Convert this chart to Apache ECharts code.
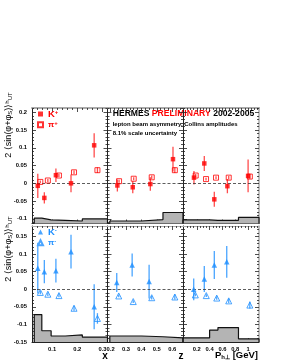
<!DOCTYPE html>
<html><head><meta charset="utf-8">
<script src="https://cdn.jsdelivr.net/npm/echarts@6/dist/echarts.min.js"></script>
<style>html,body{margin:0;padding:0;background:#fff}#c{width:281px;height:363px}</style>
</head><body><div id="c"></div>
<script>
// ---------------- data ----------------
const xRange = [0.02, 0.32], zRange = [0.18, 0.67], pRange = [-0.015, 1.17];
const yTopRange = [-0.113, 0.212], yBotRange = [-0.15, 0.18];
const xTicks = [0.1, 0.2, 0.3];
const zTicks = [0.2, 0.3, 0.4, 0.5, 0.6];
const pTicks = [0.2, 0.4, 0.6, 0.8, 1];
const yTopTicks = [-0.1, -0.05, 0, 0.05, 0.1, 0.15, 0.2];
const yBotTicks = [-0.15, -0.1, -0.05, 0, 0.05, 0.1, 0.15];

// K+ / pi+ vs x
const kpX    = [0.043, 0.069, 0.115, 0.175, 0.267];
const kpXVal = [-0.007, -0.041, 0.023, 0.000, 0.107];
const kpXErr = [0.034, 0.016, 0.019, 0.025, 0.034];
const pipX    = [0.053, 0.083, 0.127, 0.187, 0.280];
const pipXVal = [0.004, 0.008, 0.022, 0.031, 0.037];
const pipXErr = [0.004, 0.004, 0.004, 0.005, 0.008];
// K+ / pi+ vs z
const kpZ    = [0.244, 0.344, 0.458, 0.605];
const kpZVal = [-0.006, -0.011, -0.002, 0.068];
const kpZErr = [0.017, 0.017, 0.019, 0.035];
const pipZ    = [0.255, 0.350, 0.467, 0.617];
const pipZVal = [0.006, 0.013, 0.017, 0.037];
const pipZErr = [0.004, 0.004, 0.005, 0.008];
// K+ / pi+ vs Ph_perp
const kpP    = [0.156, 0.317, 0.473, 0.677, 1.00];
const kpPVal = [0.016, 0.056, -0.045, -0.008, 0.021];
const kpPErr = [0.019, 0.021, 0.021, 0.020, 0.046];
const pipP    = [0.183, 0.344, 0.50, 0.698, 1.027];
const pipPVal = [0.022, 0.012, 0.016, 0.016, 0.019];
const pipPErr = [0.004, 0.004, 0.004, 0.005, 0.007];
// K- / pi- vs x
const kmX    = [0.043, 0.069, 0.115, 0.175, 0.267];
const kmXVal = [0.060, 0.050, 0.053, 0.107, -0.050];
const kmXErr = [0.072, 0.033, 0.034, 0.048, 0.064];
const pimX    = [0.053, 0.083, 0.127, 0.187, 0.280];
const pimXVal = [-0.009, -0.014, -0.018, -0.054, -0.083];
const pimXErr = [0.005, 0.005, 0.005, 0.007, 0.015];
// K- / pi- vs z
const kmZ    = [0.24, 0.34, 0.45];
const kmZVal = [0.019, 0.069, 0.022];
const kmZErr = [0.027, 0.033, 0.048];
const pimZ    = [0.253, 0.347, 0.467, 0.617];
const pimZVal = [-0.019, -0.035, -0.024, -0.022];
const pimZErr = [0.004, 0.004, 0.005, 0.007];
// K- / pi- vs Ph_perp
const kmP    = [0.152, 0.317, 0.473, 0.667];
const kmPVal = [0.000, 0.029, 0.069, 0.078];
const kmPErr = [0.031, 0.037, 0.040, 0.045];
const pimP    = [0.177, 0.348, 0.511, 0.698, 1.027];
const pimPVal = [-0.016, -0.018, -0.025, -0.033, -0.045];
const pimPErr = [0.004, 0.004, 0.005, 0.006, 0.010];

// systematic-uncertainty bands: bin edges and band tops
const sysXEdges = [0.029, 0.059, 0.096, 0.152, 0.22, 0.32];
const sysZEdges = [0.195, 0.40, 0.54, 0.67];
const sysPEdges = [-0.015, 0.40, 0.53, 0.85, 1.17];
const sysKpX = [-0.098, -0.103, -0.104, -0.106, -0.100];
const sysKpZ = [-0.106, -0.102, -0.082];
const sysKpP = [-0.103, -0.104, -0.104, -0.096];
const sysKmX = [-0.072, -0.118, -0.133, -0.130, -0.136];
const sysKmZ = [-0.133, -0.135, -0.138];
const sysKmP = [-0.138, -0.116, -0.109, -0.141];

// ---------------- chart ----------------
const F = "'Liberation Sans', Arial, sans-serif";
const COL = {
  red: '#ff0000', redBar: '#ff4d4d',
  blue: '#1e8fff', blueBar: '#4aa5ff'
};
const grids = [
  {left: 32, top: 108, width: 75.5, height: 115.5},
  {left: 107.5, top: 108, width: 75.5, height: 115.5},
  {left: 183, top: 108, width: 76, height: 115.5},
  {left: 32, top: 226, width: 75.5, height: 116},
  {left: 107.5, top: 226, width: 75.5, height: 116},
  {left: 183, top: 226, width: 76, height: 116}
];
const xr = [xRange, zRange, pRange, xRange, zRange, pRange];
const xt = [xTicks, zTicks, pTicks, xTicks, zTicks, pTicks];
const xSplit = [3, 5, 6, 3, 5, 6];
const xMinor = [5, 4, 4, 5, 4, 4];
const fmt = v => String(+v.toFixed(3));

const xAxis = [], yAxis = [];
grids.forEach((g, i) => {
  const bottomRow = i >= 3, leftCol = i % 3 === 0, rightCol = i % 3 === 2;
  const yr = bottomRow ? yBotRange : yTopRange;
  const yt = bottomRow ? yBotTicks : yTopTicks;
  const tickStyle = {color: '#222', width: 0.8};
  xAxis.push({type: 'value', gridIndex: i, position: 'bottom', min: xr[i][0], max: xr[i][1],
    splitNumber: xSplit[i],
    axisLine: {show: true, onZero: false, lineStyle: {color: '#222', width: 1}},
    axisTick: {show: true, inside: true, length: 4, customValues: xt[i], lineStyle: tickStyle},
    minorTick: {show: true, splitNumber: xMinor[i], length: 2, lineStyle: tickStyle},
    axisLabel: {show: bottomRow, customValues: xt[i], margin: 4, fontSize: 5.8, fontWeight: 'bold',
      color: '#000', fontFamily: F, formatter: fmt},
    splitLine: {show: false}});
  xAxis.push({type: 'value', gridIndex: i, position: 'top', min: xr[i][0], max: xr[i][1],
    splitNumber: xSplit[i],
    axisLine: {show: true, onZero: false, lineStyle: {color: '#aaa', width: bottomRow ? 1.2 : 2}},
    axisTick: {show: true, inside: true, length: 4, customValues: xt[i], lineStyle: tickStyle},
    minorTick: {show: true, splitNumber: xMinor[i], length: 2, lineStyle: tickStyle},
    axisLabel: {show: false}, splitLine: {show: false}});
  yAxis.push({type: 'value', gridIndex: i, position: 'left', min: yr[0], max: yr[1],
    axisLine: {show: true, onZero: false, lineStyle: {color: '#222', width: 1}},
    axisTick: {show: true, inside: true, length: 4, customValues: yt, lineStyle: tickStyle},
    minorTick: {show: true, splitNumber: 5, length: 2, lineStyle: tickStyle},
    axisLabel: {show: leftCol, customValues: yt, margin: 5, fontSize: 5.8, fontWeight: 'bold',
      color: '#000', fontFamily: F, formatter: fmt},
    splitLine: {show: false}});
  yAxis.push({type: 'value', gridIndex: i, position: 'right', min: yr[0], max: yr[1],
    axisLine: {show: rightCol, onZero: false, lineStyle: {color: '#aaa', width: 1.5}},
    axisTick: {show: true, inside: true, length: 4, customValues: yt, lineStyle: tickStyle},
    minorTick: {show: true, splitNumber: 5, length: 2, lineStyle: tickStyle},
    axisLabel: {show: false}, splitLine: {show: false}});
});

function markerSeries(name, gi, xs, ys, symbol, size, color, open) {
  return {type: 'scatter', name, xAxisIndex: gi * 2, yAxisIndex: gi * 2,
    data: xs.map((x, k) => [x, ys[k]]), symbol, symbolSize: size, z: 5, silent: true,
    itemStyle: open ? {color: 'rgba(0,0,0,0)', borderColor: color, borderWidth: 1}
                    : {color: color, borderWidth: 0},
    clip: true};
}
function errSeries(name, gi, xs, ys, es, color) {
  return {type: 'custom', name, xAxisIndex: gi * 2, yAxisIndex: gi * 2, silent: true, z: 4, clip: true,
    data: xs.map((x, k) => [x, ys[k], es[k]]),
    renderItem: (params, api) => {
      const x = api.value(0), y = api.value(1), e = api.value(2);
      const a = api.coord([x, y - e]), b = api.coord([x, y + e]);
      return {type: 'line', shape: {x1: a[0], y1: a[1], x2: b[0], y2: b[1]},
        style: {stroke: color, lineWidth: 1.3}};
    }};
}
function sysSeries(gi, edges, tops, base) {
  const d = [[edges[0], base]];
  tops.forEach((t, k) => d.push([edges[k], t]));
  d.push([edges[edges.length - 1], tops[tops.length - 1]]);
  d.push([edges[edges.length - 1], base]);
  return {type: 'line', xAxisIndex: gi * 2, yAxisIndex: gi * 2, data: d, step: 'end',
    symbol: 'none', silent: true, z: 2,
    lineStyle: {color: '#111', width: 1.2}, areaStyle: {color: '#b4b4b4', origin: 'start', opacity: 1},
    markLine: {silent: true, symbol: 'none', label: {show: false}, animation: false,
      lineStyle: {type: [3, 2], color: '#333', width: 0.8}, data: [{yAxis: 0}]}};
}

const panels = [
  {g: 0, k: [kpX, kpXVal, kpXErr], p: [pipX, pipXVal, pipXErr], e: sysXEdges, s: sysKpX},
  {g: 1, k: [kpZ, kpZVal, kpZErr], p: [pipZ, pipZVal, pipZErr], e: sysZEdges, s: sysKpZ},
  {g: 2, k: [kpP, kpPVal, kpPErr], p: [pipP, pipPVal, pipPErr], e: sysPEdges, s: sysKpP},
  {g: 3, k: [kmX, kmXVal, kmXErr], p: [pimX, pimXVal, pimXErr], e: sysXEdges, s: sysKmX},
  {g: 4, k: [kmZ, kmZVal, kmZErr], p: [pimZ, pimZVal, pimZErr], e: sysZEdges, s: sysKmZ},
  {g: 5, k: [kmP, kmPVal, kmPErr], p: [pimP, pimPVal, pimPErr], e: sysPEdges, s: sysKmP}
];
const markers = [], rest = [];
panels.forEach(P => {
  const neg = P.g >= 3;
  const kn = neg ? 'K-' : 'K+', pn = neg ? 'π-' : 'π+';
  const c = neg ? COL.blue : COL.red, cb = neg ? COL.blueBar : COL.redBar;
  const base = neg ? yBotRange[0] : yTopRange[0];
  markers.push(markerSeries(kn, P.g, P.k[0], P.k[1], neg ? 'triangle' : 'rect', neg ? 5.5 : 4.5, c, false));
  markers.push(markerSeries(pn, P.g, P.p[0], P.p[1], neg ? 'triangle' : 'rect', neg ? 6 : 5, c, true));
  rest.push(errSeries(kn, P.g, P.k[0], P.k[1], P.k[2], cb));
  rest.push(errSeries(pn, P.g, P.p[0], P.p[1], P.p[2], cb));
  rest.push(sysSeries(P.g, P.e, P.s, base));
});

function legendCfg(top, names, color) {
  return {orient: 'vertical', left: 37, top, padding: 0, itemGap: 1.5, itemWidth: 5, itemHeight: 5,
    selectedMode: false, data: names,
    formatter: n => (n[0] === 'K' ? '{k|K}' : '{p|π}') + '{s|' + n.slice(1) + '}',
    textStyle: {color, fontFamily: F, fontWeight: 'bold', lineHeight: 8.5,
      rich: {k: {fontSize: 9.5, fontWeight: 'bold', color, fontFamily: F, lineHeight: 8.5},
             p: {fontSize: 8, fontWeight: 'bold', color, fontFamily: F, lineHeight: 8.5},
             s: {fontSize: 6, fontWeight: 'bold', color, fontFamily: F, verticalAlign: 'top', lineHeight: 8.5}}}};
}

const yTitleRich = {
  m: {fontSize: 9, fontFamily: F, fill: '#000'},
  s: {fontSize: 6, fontFamily: F, fill: '#000', verticalAlign: 'bottom'},
  u: {fontSize: 6, fontFamily: F, fill: '#000', verticalAlign: 'top'}
};
const yTitleText = '{m|2 ⟨sin(φ+φ}{s|S}{m|)⟩}{u|h}{s|UT}';

const option = {
  animation: false,
  backgroundColor: '#fff',
  grid: grids.map(g => Object.assign({containLabel: false}, g)),
  xAxis, yAxis,
  legend: [legendCfg(109, ['K+', 'π+'], COL.red), legendCfg(227, ['K-', 'π-'], COL.blue)],
  series: markers.concat(rest),
  graphic: [
    {type: 'text', left: 112.7, top: 109.5, silent: true,
      style: {text: '{a|HERMES }{b|PRELIMINARY}{a| 2002-2005}',
        rich: {a: {fontSize: 8.6, fontWeight: 'bold', fontFamily: F, fill: '#000'},
               b: {fontSize: 8.6, fontWeight: 'bold', fontFamily: F, fill: '#ff0000'}}}},
    {type: 'text', left: 112.7, top: 121.7, silent: true,
      style: {text: 'lepton beam asymmetry, Collins amplitudes', fontSize: 6.0, fontWeight: 'bold',
        fontFamily: F, fill: '#000'}},
    {type: 'text', left: 112.7, top: 130, silent: true,
      style: {text: '8.1% scale uncertainty', fontSize: 6.0, fontWeight: 'bold', fontFamily: F, fill: '#000'}},
    {type: 'text', x: 9, y: 125, rotation: Math.PI / 2, silent: true,
      style: {text: yTitleText, rich: yTitleRich, align: 'center', verticalAlign: 'middle'}},
    {type: 'text', x: 9, y: 249, rotation: Math.PI / 2, silent: true,
      style: {text: yTitleText, rich: yTitleRich, align: 'center', verticalAlign: 'middle'}},
    {type: 'text', x: 105, y: 356, silent: true,
      style: {text: 'x', fontSize: 10, fontWeight: 'bold', fontFamily: F, fill: '#000', align: 'center', verticalAlign: 'middle'}},
    {type: 'text', x: 181, y: 356, silent: true,
      style: {text: 'z', fontSize: 10, fontWeight: 'bold', fontFamily: F, fill: '#000', align: 'center', verticalAlign: 'middle'}},
    {type: 'text', x: 258, y: 355.5, silent: true,
      style: {text: '{m|P}{s|h⊥}{m| [GeV]}', align: 'right', verticalAlign: 'middle',
        rich: {m: {fontSize: 9.5, fontWeight: 'bold', fontFamily: F, fill: '#000'},
               s: {fontSize: 6, fontWeight: 'bold', fontFamily: F, fill: '#000', verticalAlign: 'bottom'}}}}
  ]
};
const chart = echarts.init(document.getElementById('c'), null, {renderer: 'canvas'});
chart.setOption(option);
</script>
</body></html>
